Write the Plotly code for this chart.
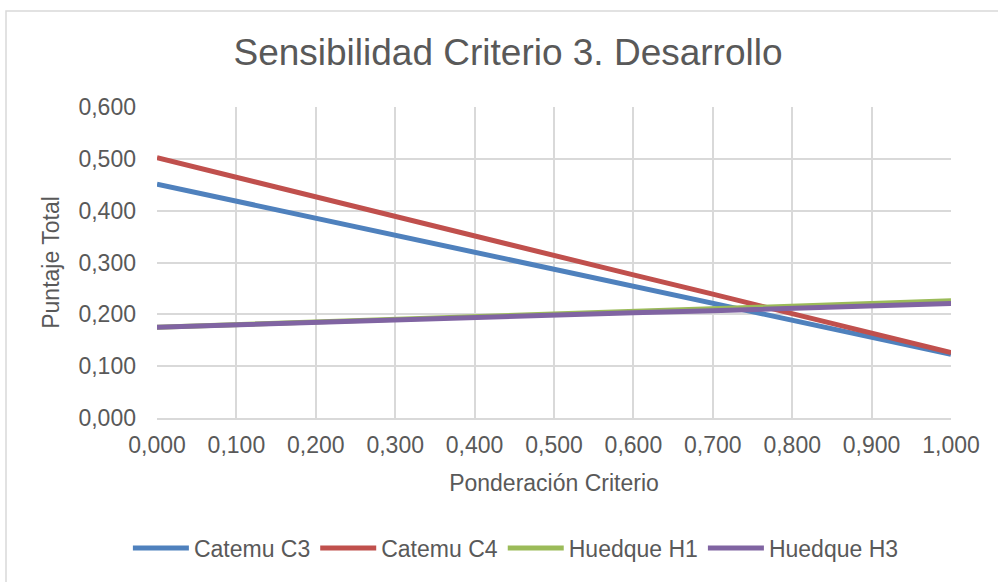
import plotly.graph_objects as go

x_vals = [0.0, 0.1, 0.2, 0.3, 0.4, 0.5, 0.6, 0.7, 0.8, 0.9, 1.0]
catemu_c3 = [0.451, 0.418, 0.386, 0.353, 0.320, 0.287, 0.255, 0.222, 0.189, 0.156, 0.123]
catemu_c4 = [0.502, 0.464, 0.427, 0.389, 0.351, 0.314, 0.276, 0.239, 0.201, 0.164, 0.126]
huedque_h1 = [0.175, 0.180, 0.185, 0.190, 0.195, 0.201, 0.206, 0.211, 0.216, 0.221, 0.226]
huedque_h3 = [0.175, 0.180, 0.184, 0.189, 0.193, 0.198, 0.203, 0.207, 0.212, 0.216, 0.221]

series = [
    ("Catemu C3", catemu_c3, "#4F81BD"),
    ("Catemu C4", catemu_c4, "#C0504D"),
    ("Huedque H1", huedque_h1, "#9BBB59"),
    ("Huedque H3", huedque_h3, "#8064A2"),
]

FONT = "Liberation Sans, Arial, sans-serif"
TXT = "#595959"
GRID = "#D9D9D9"

fig = go.Figure()
for name, vals, col in series:
    fig.add_trace(go.Scatter(x=x_vals, y=vals, mode="lines", name=name,
                             line=dict(color=col, width=5)))

fig.update_layout(
    width=998, height=582,
    margin=dict(l=157, r=47, t=107, b=164, autoexpand=False),
    paper_bgcolor="white", plot_bgcolor="white",
    separators=",.",
    font=dict(family=FONT, color=TXT, size=23),
    title=dict(text="Sensibilidad Criterio 3. Desarrollo", x=(508 - 0) / 998, xanchor="center",
               y=1 - 52 / 582, yref="container", yanchor="middle",
               font=dict(size=37, color=TXT, family=FONT)),
    showlegend=True,
    legend=dict(orientation="h", x=0.452, xanchor="center", y=-0.418, yanchor="middle",
                font=dict(size=23, color=TXT), itemwidth=56, tracegroupgap=0),
    xaxis=dict(range=[0, 1], tickvals=x_vals, tickformat=".3f",
               showgrid=True, gridcolor=GRID, gridwidth=1.5,
               showline=True, linecolor=GRID, linewidth=1.5,
               zeroline=False, ticks="", ticklabelstandoff=6,
               title=dict(text="Ponderación Criterio", font=dict(size=23, color=TXT), standoff=18)),
    yaxis=dict(range=[0, 0.6], dtick=0.1, tickformat=".3f",
               showgrid=True, gridcolor=GRID, gridwidth=1.5,
               showline=False, zeroline=False, ticks="", ticklabelstandoff=20,
               title=dict(text="Puntaje Total", font=dict(size=23, color=TXT), standoff=12)),
    shapes=[dict(type="rect", xref="paper", yref="paper",
                 x0=(6 - 157) / 794, x1=1.2, y0=-0.8, y1=(418 - 11) / 311,
                 line=dict(color=GRID, width=1.5), fillcolor="rgba(0,0,0,0)", layer="below")],
)

fig.write_html("out.html", config={"displayModeBar": False},
               post_script="document.body.style.margin='0';")
